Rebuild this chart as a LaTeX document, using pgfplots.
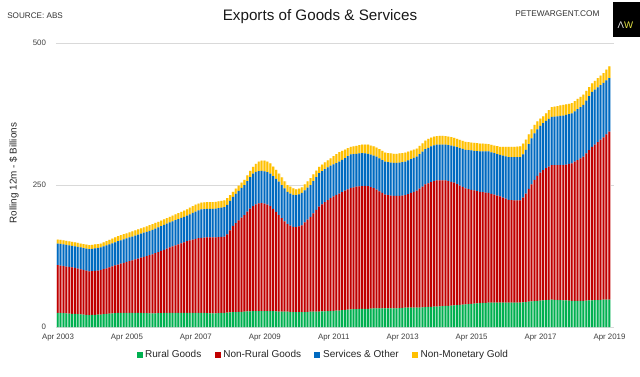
\documentclass[border=0pt]{standalone}
\usepackage{pgfplots}
\pgfplotsset{compat=1.18}
\usepackage{pgfplotstable}
\usepackage{fontspec}
\setmainfont{Liberation Sans}
\definecolor{rural}{RGB}{0,176,80}
\definecolor{nonrural}{RGB}{192,0,0}
\definecolor{services}{RGB}{0,106,192}
\definecolor{gold}{RGB}{255,192,0}
\definecolor{logoy}{RGB}{228,228,70}
\pgfplotstableread{
m G R B T
0 25 109 147 154
1 24.7 108.2 146.2 153.2
2 24.3 107.3 145.3 152.3
3 24 106.5 144.5 151.5
4 23.7 105.7 143.7 150.7
5 23.3 104.8 142.8 149.8
6 23 104 142 149
7 22.6 102.8 141 148
8 22.2 101.6 140 147
9 21.8 100.4 139 146
10 21.4 99.2 138 145
11 21 98 137 144
12 21.2 98.3 137.5 144.5
13 21.5 98.8 138.3 145.3
14 21.7 99.4 139.1 146.1
15 22 100 140 147
16 22.5 101.7 141.8 149.2
17 23 103.3 143.7 151.3
18 23.5 105 145.5 153.5
19 24 106.7 147.3 155.7
20 24.5 108.3 149.2 157.8
21 25 110 151 160
22 25 111.5 152.7 161.7
23 25 113 154.3 163.3
24 25 114.5 156 165
25 25 116 157.7 166.7
26 25 117.5 159.3 168.3
27 25 119 161 170
28 24.8 120.5 162.7 171.8
29 24.7 122 164.3 173.7
30 24.5 123.5 166 175.5
31 24.3 125 167.7 177.3
32 24.2 126.5 169.3 179.2
33 24 128 171 181
34 24.2 130 173.2 183.2
35 24.3 132 175.3 185.3
36 24.5 134 177.5 187.5
37 24.7 136 179.7 189.7
38 24.8 138 181.8 191.8
39 25 140 184 194
40 25 141.8 186 196.2
41 25 143.7 188 198.3
42 25 145.5 190 200.5
43 25 147.3 192 202.7
44 25 149.2 194 204.8
45 25 151 196 207
46 25 152.5 198.5 210
47 25 154 201 213
48 25 155.3 203.3 215.3
49 25 156.3 205.3 217.3
50 25 157 207 219
51 24.8 157.5 207.5 219.5
52 24.5 157.8 207.8 219.8
53 24.2 158 208 220
54 24 158 208 220
55 24.2 158 208.5 220.5
56 24.5 158.3 209.3 221.3
57 24.8 158.7 210.2 222.2
58 25 159 211 223
59 25.3 163 215 227
60 25.7 170 222 232
61 26 178 229 238
62 26.3 183 234.5 243.5
63 26.5 187.8 239.8 248.8
64 26.8 192.5 245 254
65 27 197 250 259
66 27.3 203 257 267
67 27.7 208.5 264 275
68 28 213 270 282
69 28 216 273 287
70 28 217.5 274.5 291
71 28 218 275 293
72 28 217 274 293
73 28 215.5 272.5 291
74 28 213 270 288
75 27.8 208 265.5 282.5
76 27.5 202.5 261 276.5
77 27 197 256 270
78 27 191.5 250 263.5
79 27 186 244 256.5
80 27 181 238 250
81 26.7 178.5 235 247
82 26.3 176.5 232.5 244
83 26 176 232 242.5
84 26 177 233.5 243.5
85 26 179 236 246
86 26.3 184 240.5 251
87 26.7 189 245.3 256.5
88 27 194 250 262
89 27 200 257 268.7
90 27 206 264 275.3
91 27 212 271 282
92 27.3 216 274.5 286
93 27.5 220 278 290
94 27.8 223.5 281 293.5
95 28 227 284 297
96 28.3 230 286.3 300.7
97 28.7 232.5 288.7 304.3
98 29 235 291 308
99 29.5 237.5 294.3 310.3
100 30 240 297.5 312.5
101 30.5 242.5 300.8 314.8
102 31 245 304 317
103 31.3 246 304.5 318
104 31.5 247 305 319
105 31.8 247.5 305.5 320
106 32 248 306 321
107 32 248.3 305.8 321.2
108 32 248 305 321
109 32.3 246.3 303.5 319.5
110 32.7 244.3 301.8 318
111 33 242 300 316
112 33 239 297 313
113 33 236 294 310
114 33 233 291 307
115 33 232.3 290.3 306.3
116 33 231.5 289.5 305.5
117 33 231 289 305
118 33 231 289 305
119 33.3 231 289.5 305.5
120 33.7 231.5 290.3 306.2
121 34 232 291 307
122 34 234 293.3 308.8
123 34 236 295.5 310.5
124 34 238 297.8 312.3
125 34 240 300 314
126 34.3 243.7 304.3 318.7
127 34.7 247.3 308.7 323.3
128 35 251 313 328
129 35.3 253 315.5 331
130 35.5 255 317.8 333.3
131 35.8 256.7 319.7 335
132 36 258 321 336
133 36.3 258.3 321.3 336.5
134 36.7 258.3 321.3 336.5
135 37 258 321 336
136 37.3 257 320.3 335.3
137 37.7 255.5 319.2 334.2
138 38 254 318 333
139 38.5 251.5 316.5 331.3
140 39 249 315 329.5
141 39.5 246.5 313.5 327.8
142 40 244 312 326
143 40.4 242.8 311.4 325.4
144 40.8 241.6 310.8 324.8
145 41.2 240.4 310.2 324.2
146 41.6 239.2 309.6 323.6
147 42 238 309 323
148 42.3 237.3 309 322.7
149 42.7 236.7 309 322.3
150 43 236 309 322
151 43 234.5 307.5 320.8
152 43 233 306 319.5
153 43 231.5 304.5 318.3
154 43 230 303 317
155 43 228 301.7 317
156 43 226 300.3 317
157 43 224 299 317
158 43 223.5 299 317
159 43 223 299 317.3
160 43 223 299 317.7
161 43 223 299 318
162 43.5 228 304 323
163 44 235 312 330
164 44.5 243 322 339
165 45 251 332 348
166 45.5 259 341 356
167 46 266 348 362
168 46.5 272 354 367
169 47 276 359 371
170 47.3 279.5 363 376
171 47.7 282.5 366.5 382
172 48 285 370 387
173 47.8 285 370.5 388
174 47.5 285 371 389
175 47.3 285 371.5 390
176 47 285 372 391
177 46.7 286 373.3 392
178 46.3 287 374.7 393
179 46 288 376 394
180 46 291 379.8 397.8
181 46 294 383.5 401.5
182 46 297 387.3 405.3
183 46 300 391 409
184 46.3 305.7 398.7 415.7
185 46.7 311.3 406.3 422.3
186 47 317 414 429
187 47.3 321.3 418 433.5
188 47.5 325.5 422 438
189 47.8 329.8 426 442.5
190 48 334 430 447
191 48 339 434 453
192 48 344 438 459
}\exports
\pgfplotsset{
  base/.style={
    at={(42pt,36.75pt)}, anchor=south west, scale only axis,
    width=418.35pt, height=213pt,
    xmin=-0.7, xmax=193.5, ymin=0, ymax=500,
    ybar stacked,
    axis line style={draw=none}, tick style={draw=none},
    ytick={0,250,500}, xtick={0,24,...,192},
  },
}
\begin{document}
\begin{tikzpicture}
\path[use as bounding box, fill=white] (0,0) rectangle (480pt,282pt);
% pale full-width layer
\begin{axis}[base, bar width=0.95,
  ymajorgrids, grid style={draw=black!15, line width=0.6pt},
  xticklabels={Apr 2003,Apr 2005,Apr 2007,Apr 2009,Apr 2011,Apr 2013,Apr 2015,Apr 2017,Apr 2019},
  ticklabel style={font=\fontsize{5.9}{7}\selectfont, text=black!75},
  /pgf/number format/assume math mode=true,
  yticklabel style={xshift=-4pt},
  xticklabel style={yshift=-1.5pt},
  ylabel={Rolling 12m - \$ Billions},
  ylabel style={at={(rel axis cs:-0.0753,0.542)}, anchor=center, font=\fontsize{7.4}{9}\selectfont, text=black!85},
]
\addplot[fill=rural!30!white, draw=none] table[x=m, y=G] {\exports};
\addplot[fill=nonrural!25!white, draw=none] table[x=m, y expr=\thisrow{R}-\thisrow{G}] {\exports};
\addplot[fill=services!30!white, draw=none] table[x=m, y expr=\thisrow{B}-\thisrow{R}] {\exports};
\addplot[fill=gold!40!white, draw=none] table[x=m, y expr=\thisrow{T}-\thisrow{B}] {\exports};
\end{axis}
% solid colour layer
\begin{axis}[base, bar width=0.62, bar shift=-0.12,
  xticklabels={}, yticklabels={},
  legend columns=4,
  legend style={at={(rel axis cs:0.4797,-0.0986)}, anchor=center, draw=none, fill=none,
    font=\fontsize{7.5}{9}\selectfont, text=black!85, inner sep=0pt,
    /tikz/every even column/.append style={column sep=8pt}},
  legend image code/.code={\fill[#1] (0pt,-2.25pt) rectangle (4.5pt,2.25pt);},
]
\addplot[fill=rural, draw=none] table[x=m, y=G] {\exports};
\addplot[fill=nonrural, draw=none] table[x=m, y expr=\thisrow{R}-\thisrow{G}] {\exports};
\addplot[fill=services, draw=none] table[x=m, y expr=\thisrow{B}-\thisrow{R}] {\exports};
\addplot[fill=gold, draw=none] table[x=m, y expr=\thisrow{T}-\thisrow{B}] {\exports};
\legend{Rural Goods, Non-Rural Goods, Services \& Other, Non-Monetary Gold}
\end{axis}
\node[font=\fontsize{11.4}{13}\selectfont, text=black!90] at (240pt,269.25pt) {Exports of Goods \& Services};
\node[font=\fontsize{6.1}{7}\selectfont, anchor=west, inner sep=0pt, text=black!80] at (5.25pt,270.4pt) {SOURCE: ABS};
\node[font=\fontsize{6.2}{7}\selectfont, anchor=west, inner sep=0pt, text=black!80] at (386.25pt,271.5pt) {PETEWARGENT.COM};
\fill[black] (459.75pt,254.25pt) rectangle (480pt,280.5pt);
\node[font=\fontsize{7.2}{8}\selectfont, inner sep=0pt] at (469.1pt,263.25pt) {\textcolor{white!90!black}{Λ}\textcolor{logoy}{W}};
\end{tikzpicture}
\end{document}
